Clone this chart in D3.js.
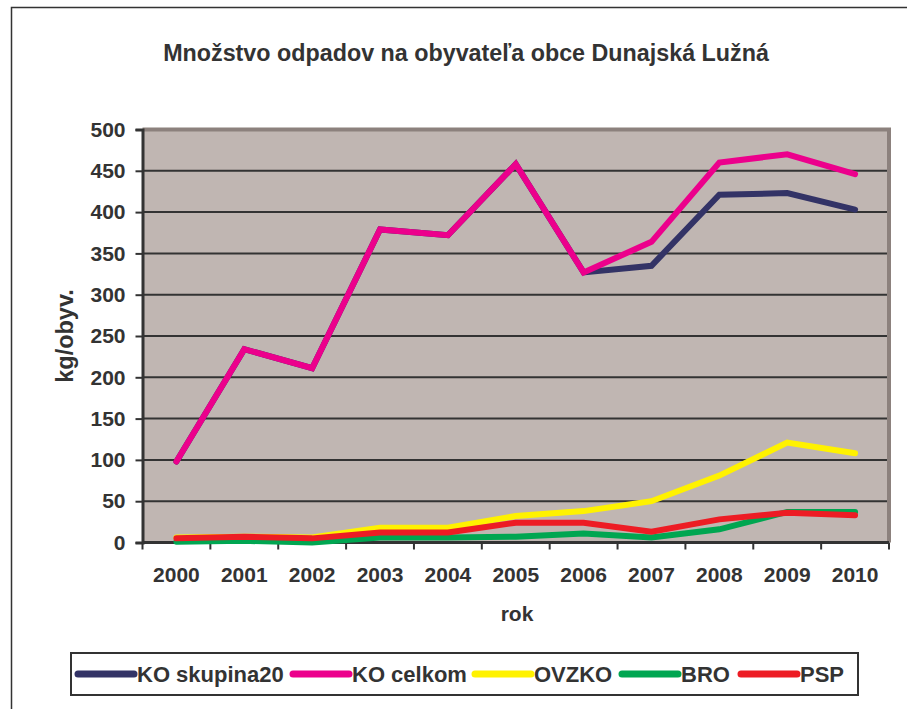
<!DOCTYPE html>
<html>
<head>
<meta charset="utf-8">
<script src="https://cdn.jsdelivr.net/npm/d3@7"></script>
<style>
  body { margin: 0; background: #fff; }
  svg { display: block; font-family: "Liberation Sans", Arial, sans-serif; font-weight: bold; }
</style>
</head>
<body>
<div id="chart"></div>
<script>
// ---------- Data ----------
const years = ["2000", "2001", "2002", "2003", "2004", "2005", "2006", "2007", "2008", "2009", "2010"];
const koSkupina20 = [98, 234, 211, 379, 372, 458, 327, 335, 421, 423, 403];
const koCelkom    = [98, 234, 211, 379, 372, 458, 327, 364, 460, 470, 446];
const ovzko       = [6, 7, 6, 18, 18, 32, 38, 50, 81, 121, 108];
const bro         = [1, 2, 0, 6, 6, 7, 11, 6, 16, 37, 37];
const psp         = [5, 7, 5, 12, 12, 24, 24, 13, 28, 36, 33];
const yTicks = [0, 50, 100, 150, 200, 250, 300, 350, 400, 450, 500];

const series = [
  { name: "KO skupina20", values: koSkupina20, color: "#333366" },
  { name: "KO celkom",    values: koCelkom,    color: "#ec008c" },
  { name: "OVZKO",        values: ovzko,       color: "#fff200" },
  { name: "BRO",          values: bro,         color: "#00a651" },
  { name: "PSP",          values: psp,         color: "#ed1c24" }
];

// ---------- Dimensions ----------
const W = 907, H = 709;
const plot = { left: 142.5, right: 889, top: 129.5, bottom: 542.5 };
const textColor = "#333333";

const svg = d3.select("#chart").append("svg")
  .attr("width", W)
  .attr("height", H);

// outer frame
svg.append("rect")
  .attr("x", 11.5).attr("y", 7.5)
  .attr("width", 1000).attr("height", 1000)
  .attr("fill", "none")
  .attr("stroke", "#333")
  .attr("stroke-width", 1.5);

// ---------- Scales ----------
const x = d3.scaleBand().domain(years).range([plot.left, plot.right]);
const y = d3.scaleLinear().domain([0, 500]).range([plot.bottom, plot.top]);

// plot background
svg.append("rect")
  .attr("x", plot.left).attr("y", plot.top)
  .attr("width", plot.right - plot.left)
  .attr("height", plot.bottom - plot.top)
  .attr("fill", "#c0b6b2");

// grid lines
svg.append("g")
  .selectAll("line")
  .data(yTicks.filter(d => d > 0 && d < 500))
  .join("line")
  .attr("x1", plot.left).attr("x2", plot.right)
  .attr("y1", d => y(d)).attr("y2", d => y(d))
  .attr("stroke", "#333")
  .attr("stroke-width", 2);

// plot border top/right
svg.append("path")
  .attr("d", `M${plot.left},${plot.top}H${plot.right}V${plot.bottom}`)
  .attr("fill", "none")
  .attr("stroke", "#8c817d")
  .attr("stroke-width", 4);

// ---------- Axes ----------
const yAxis = svg.append("g")
  .attr("transform", `translate(${plot.left},0)`)
  .call(d3.axisLeft(y).tickValues(yTicks).tickSize(7).tickPadding(10));

const xAxis = svg.append("g")
  .attr("transform", `translate(0,${plot.bottom})`)
  .call(d3.axisBottom(x).tickSize(0).tickPadding(25));

// x tick marks sit between categories
xAxis.selectAll(".sep")
  .data(years.concat(["end"]))
  .join("line")
  .attr("class", "sep")
  .attr("x1", (d, i) => i < years.length ? x(d) : plot.right)
  .attr("x2", (d, i) => i < years.length ? x(d) : plot.right)
  .attr("y1", 0).attr("y2", 7)
  .attr("stroke", "#333")
  .attr("stroke-width", 2);

[yAxis, xAxis].forEach(ax => {
  ax.select(".domain").attr("stroke", "#333").attr("stroke-width", 3);
  ax.selectAll(".tick line").attr("stroke", "#333").attr("stroke-width", 2);
  ax.selectAll(".tick text")
    .attr("fill", textColor)
    .style("font-size", "21px")
    .style("font-weight", "bold")
    .style("font-family", "'Liberation Sans', Arial, sans-serif");
});
xAxis.select(".domain").attr("d", `M${plot.left},0H${plot.right}`);

// ---------- Lines ----------
const line = d3.line()
  .x((d, i) => x(years[i]) + x.bandwidth() / 2)
  .y(d => y(d));

svg.append("g")
  .selectAll("path")
  .data(series)
  .join("path")
  .attr("d", d => line(d.values))
  .attr("fill", "none")
  .attr("stroke", d => d.color)
  .attr("stroke-width", 6)
  .attr("stroke-linejoin", "miter")
  .attr("stroke-linecap", "round");

// ---------- Titles ----------
svg.append("text")
  .attr("x", 466).attr("y", 61)
  .attr("text-anchor", "middle")
  .attr("fill", textColor)
  .style("font-size", "23.3px")
  .text("Množstvo odpadov na obyvateľa obce Dunajská Lužná");

svg.append("text")
  .attr("transform", "translate(73,336) rotate(-90)")
  .attr("text-anchor", "middle")
  .attr("fill", textColor)
  .style("font-size", "23.5px")
  .text("kg/obyv.");

svg.append("text")
  .attr("x", 517).attr("y", 621)
  .attr("text-anchor", "middle")
  .attr("fill", textColor)
  .style("font-size", "21px")
  .text("rok");

// ---------- Legend ----------
const legendBox = { x: 71, y: 653, w: 787, h: 42 };
svg.append("rect")
  .attr("x", legendBox.x).attr("y", legendBox.y)
  .attr("width", legendBox.w).attr("height", legendBox.h)
  .attr("fill", "#fff")
  .attr("stroke", "#333")
  .attr("stroke-width", 2);

const legendStarts = [78, 293, 475, 622, 741];
const legend = svg.append("g");
series.forEach((s, i) => {
  const lx = legendStarts[i];
  const ly = legendBox.y + legendBox.h / 2;
  legend.append("line")
    .attr("x1", lx).attr("x2", lx + 56)
    .attr("y1", ly).attr("y2", ly)
    .attr("stroke", s.color)
    .attr("stroke-width", 7)
    .attr("stroke-linecap", "round");
  legend.append("text")
    .attr("x", lx + 59).attr("y", ly + 8)
    .attr("fill", textColor)
    .style("font-size", "22px")
    .text(s.name);
});
</script>
</body>
</html>
